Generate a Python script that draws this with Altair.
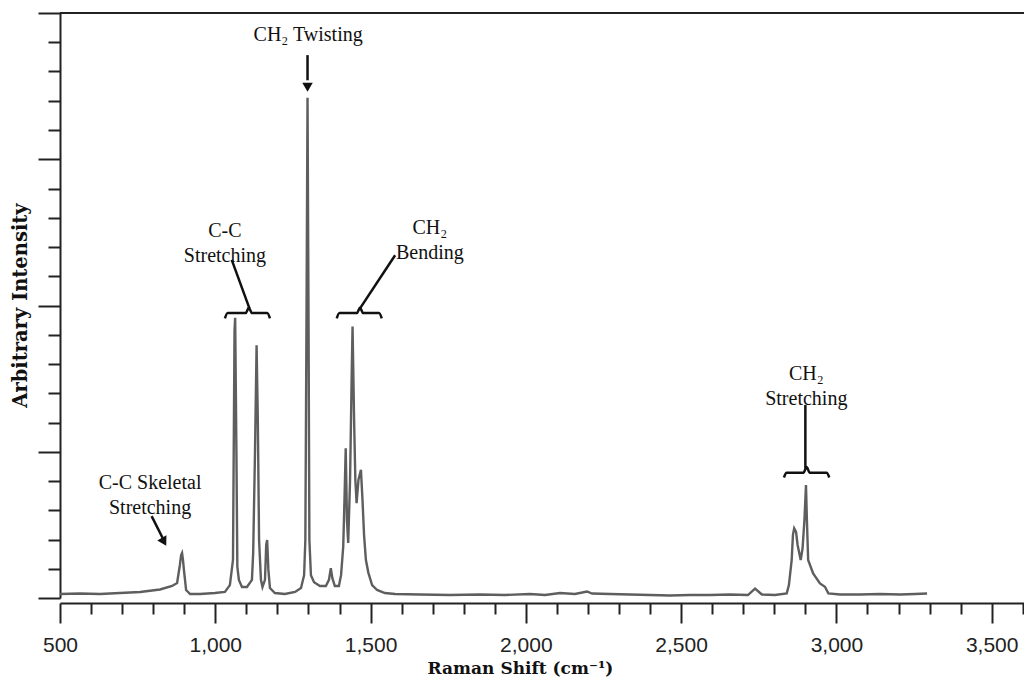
import altair as alt
import pandas as pd

# ---- spectrum (Raman shift in cm-1, arbitrary intensity 0-100) ----
shift = [500, 564, 629, 693, 758, 822, 861, 877, 886, 890, 893, 896, 899, 906, 919, 951,
         999, 1031, 1047, 1057, 1062, 1064, 1068, 1071, 1076, 1086, 1102, 1118, 1122, 1128,
         1133, 1137, 1141, 1147, 1152, 1160, 1164, 1167, 1171, 1176, 1192, 1224, 1257, 1276,
         1286, 1290, 1294, 1297, 1300, 1303, 1308, 1318, 1337, 1356, 1366, 1372, 1377, 1385,
         1398, 1405, 1412, 1416, 1420, 1424, 1428, 1434, 1439, 1442, 1447, 1451, 1455, 1461,
         1469, 1474, 1479, 1485, 1493, 1505, 1521, 1546, 1579, 1659, 1756, 1852, 1933, 2013,
         2062, 2110, 2158, 2197, 2213, 2271, 2335, 2400, 2464, 2529, 2593, 2657, 2715, 2738,
         2760, 2802, 2840, 2847, 2856, 2860, 2864, 2870, 2875, 2885, 2891, 2897, 2902, 2905,
         2909, 2925, 2947, 2963, 2974, 3012, 3076, 3140, 3205, 3253, 3292]
intensity = [0.68, 0.77, 0.68, 0.85, 1.03, 1.45, 2.05, 2.56, 5.64, 7.35, 7.69, 6.5, 4.8, 1.37, 0.68, 0.68,
             0.85, 1.03, 2.2, 6.5, 45.8, 47.9, 25.3, 5.35, 3.1, 1.88, 1.88, 3.1, 7.7, 25.3,
             43.2, 30.4, 9.9, 3.1, 1.88, 3.1, 9.06, 9.9, 4.8, 1.7, 0.85, 0.68, 1.03, 1.7,
             3.9, 9.9, 50.9, 85.5, 50.9, 9.9, 3.9, 2.7, 2.05, 2.05, 3.1, 5.1, 3.4, 2.05,
             2.05, 3.9, 8.8, 16.8, 25.6, 13.3, 9.4, 20.2, 37.3, 46.4, 30.4, 20.2, 16.2, 20.2,
             21.9, 16.8, 10.8, 6.5, 4.3, 2.2, 1.37, 0.85, 0.68, 0.6, 0.51, 0.6, 0.51, 0.68,
             0.51, 0.85, 0.68, 1.11, 0.77, 0.68, 0.6, 0.51, 0.43, 0.51, 0.51, 0.6, 0.51, 1.62,
             0.6, 0.51, 0.8, 2.2, 6.5, 10.8, 11.9, 11.3, 9.06, 6.5, 8.5, 13.3, 19.3, 13.3,
             6.5, 4.2, 2.5, 1.93, 0.8, 0.6, 0.6, 0.68, 0.6, 0.68, 0.77]

# ---- annotation labels ----
label_text = ["CH\u2082 Twisting", "C-C\nStretching", "CH\u2082\nBending",
              "CH\u2082\nStretching", "C-C Skeletal\nStretching"]
label_x = [1299, 1031, 1691, 2903, 790]
label_y = [96.2, 62.8, 63.3, 38.3, 19.7]

# leader lines (start -> end)
lead_x0 = [1297, 1053, 1579, 2900, 795]
lead_y0 = [92.8, 57.8, 58.6, 33.0, 14.0]
lead_x1 = [1297, 1110, 1466, 2900, 833]
lead_y1 = [88.5, 49.5, 49.5, 22.2, 10.0]

# arrow heads
head_x = [1297, 835]
head_y = [87.3, 9.6]
head_angle = [0, 331]

# curly braces: left end, tip, right end, y at ends / flat part / tip
brace_x0 = [1031, 1391, 2831]
brace_xc = [1108, 1466, 2904]
brace_x1 = [1176, 1536, 2977]
brace_yend = [47.8, 47.8, 20.6]
brace_yflat = [48.7, 48.7, 21.4]
brace_ytip = [49.6, 49.6, 22.4]

x_major = list(range(500, 3601, 500))
x_minor = [v for v in range(600, 3601, 100) if v % 500 != 0]
y_major = list(range(0, 101, 25))
y_minor = [v for v in range(5, 100, 5) if v % 25 != 0]

spec_df = pd.DataFrame({"shift": shift, "intensity": intensity})
lab_df = pd.DataFrame({"label": label_text, "x": label_x, "y": label_y})
lead_df = pd.DataFrame({"x0": lead_x0, "y0": lead_y0, "x1": lead_x1, "y1": lead_y1})
head_df = pd.DataFrame({"x": head_x, "y": head_y, "ang": head_angle})

brows = []
for i in range(len(brace_x0)):
    x0, xc, x1 = brace_x0[i], brace_xc[i], brace_x1[i]
    ye, yf, yt = brace_yend[i], brace_yflat[i], brace_ytip[i]
    w = x1 - x0
    pts = [(x0, ye), (x0 + 0.06 * w, yf), (xc - 0.07 * w, yf), (xc, yt),
           (xc + 0.07 * w, yf), (x1 - 0.06 * w, yf), (x1, ye)]
    for k, (px, py) in enumerate(pts):
        brows.append({"bid": i, "k": k, "x": px, "y": py})
brace_df = pd.DataFrame(brows)

xscale = alt.Scale(domain=[500, 3604], nice=False, zero=False)
yscale = alt.Scale(domain=[0, 100], nice=False, zero=False)

xaxis_major = alt.Axis(
    values=x_major, orient="bottom", tickSize=20, format=",.0f",
    labelFlush=False, labelOverlap=False, labelBound=False,
    offset=5, grid=False,
    domainColor="#222", domainWidth=2, tickColor="#222", tickWidth=2,
    labelFont="Liberation Sans", labelFontSize=21, labelColor="#222", labelPadding=11,
    title="Raman Shift (cm\u207b\u00b9)", titleFont="DejaVu Serif", titleFontWeight="bold",
    titleFontSize=17, titleColor="#111", titleX=460, titleY=65, titleBaseline="middle",
)
xaxis_minor = alt.Axis(
    values=x_minor, orient="bottom", tickSize=11, labels=False, domain=False,
    offset=5, grid=False, tickColor="#222", tickWidth=2, title=None,
)
yaxis_major = alt.Axis(
    values=y_major, orient="left", tickSize=22, labels=False, grid=False,
    domainColor="#222", domainWidth=2, tickColor="#222", tickWidth=2,
    title="Arbitrary Intensity", titleFont="DejaVu Serif", titleFontWeight="bold",
    titleFontSize=19.5, titleColor="#111", titleX=-40, titleY=292, titleAngle=270,
    titleBaseline="middle", titleAlign="center",
)
yaxis_minor = alt.Axis(
    values=y_minor, orient="left", tickSize=12, labels=False, domain=False,
    grid=False, tickColor="#222", tickWidth=2, title=None,
)

spectrum = alt.Chart(spec_df).mark_line(color="#5e5e5e", strokeWidth=2.4).encode(
    x=alt.X("shift:Q", scale=xscale, axis=xaxis_major),
    y=alt.Y("intensity:Q", scale=yscale, axis=yaxis_major),
)

minor_ticks = alt.Chart(spec_df).mark_line(opacity=0).encode(
    x=alt.X("shift:Q", scale=xscale, axis=xaxis_minor),
    y=alt.Y("intensity:Q", scale=yscale, axis=yaxis_minor),
)

top_border = alt.Chart(pd.DataFrame({"top": [100]})).mark_rule(color="#222", strokeWidth=2).encode(
    y=alt.Y("top:Q", scale=yscale, axis=None)
)

leaders = alt.Chart(lead_df).mark_rule(color="#111", strokeWidth=2.5).encode(
    x=alt.X("x0:Q", scale=xscale, axis=None),
    y=alt.Y("y0:Q", scale=yscale, axis=None),
    x2="x1:Q", y2="y1:Q",
)

heads = alt.Chart(head_df).mark_point(shape="triangle-down", filled=True, size=110,
                                      color="#111", opacity=1).encode(
    x=alt.X("x:Q", scale=xscale, axis=None),
    y=alt.Y("y:Q", scale=yscale, axis=None),
    angle=alt.Angle("ang:Q", scale=None),
)

braces = alt.Chart(brace_df).mark_line(color="#111", strokeWidth=2.5, interpolate="monotone").encode(
    x=alt.X("x:Q", scale=xscale, axis=None),
    y=alt.Y("y:Q", scale=yscale, axis=None),
    detail="bid:N", order="k:Q",
)

labels = alt.Chart(lab_df).mark_text(font="Liberation Serif", fontSize=20, lineBreak="\n",
                                     lineHeight=25, baseline="middle", align="center",
                                     color="#111").encode(
    x=alt.X("x:Q", scale=xscale, axis=None),
    y=alt.Y("y:Q", scale=yscale, axis=None),
    text="label:N",
)

chart = alt.layer(spectrum, minor_ticks, top_border, leaders, heads, braces, labels).resolve_axis(
    x="independent", y="independent"
).properties(
    width=964, height=585,
    autosize=alt.AutoSizeParams(type="none"),
    padding={"left": 52, "top": 5, "right": 0, "bottom": 80},
    background="white",
).configure_view(stroke=None)

chart.save("out.html", embed_options={"renderer": "svg", "actions": False})
